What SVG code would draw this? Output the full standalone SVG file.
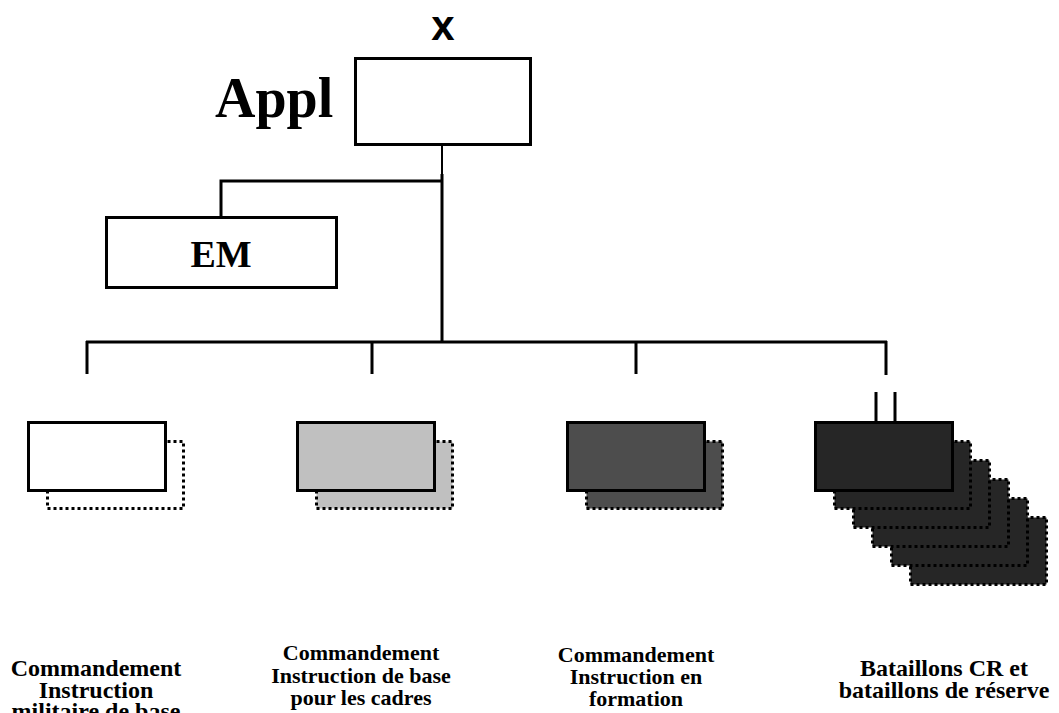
<svg xmlns="http://www.w3.org/2000/svg" width="1059" height="713" viewBox="0 0 1059 713">
<style>
.box{stroke:#000;stroke-width:3}
.sh{stroke:#000;stroke-width:3;stroke-dasharray:3 3}
.ln{stroke:#000;stroke-width:3;fill:none}
.lbl{font-family:"Liberation Serif","Times New Roman",serif;font-weight:bold;font-size:22px;text-anchor:middle;fill:#000}
.lg{font-size:24px}
.big{font-family:"Liberation Serif","Times New Roman",serif;font-weight:bold;fill:#000}
</style>
<rect width="1059" height="713" fill="#fff"/>
<g id="connectors">
<path d="M442 146V176" stroke="#000" stroke-width="2" fill="none"/>
<path class="ln" d="M442 174V342M443 181H221V216M86 342H887M87 341V374M372 341V374M636 341V374M886 341V375M876 392V421M895 392V421"/>
</g>
<g id="appl">
<text x="443" y="40" font-family="'Liberation Sans',Arial,sans-serif" font-weight="bold" font-size="42" text-anchor="middle">x</text>
<text class="big" x="215" y="117" font-size="56">Appl</text>
<rect class="box" x="355.5" y="58.5" width="175" height="86" fill="#fff"/>
</g>
<g id="em">
<rect class="box" x="106.5" y="217.5" width="230" height="70" fill="#fff"/>
<text class="big" x="221" y="267" font-size="38" text-anchor="middle">EM</text>
</g>
<g id="unit1">
<rect class="sh" x="47.5" y="441.5" width="136" height="67" fill="#fff"/>
<rect class="box" x="28.5" y="422.5" width="137" height="68" fill="#fff"/>
<text class="lbl lg" x="96" y="676">Commandement</text>
<text class="lbl lg" x="96" y="698">Instruction</text>
<text class="lbl lg" x="96" y="719">militaire de base</text>
</g>
<g id="unit2">
<rect class="sh" x="316.5" y="441.5" width="136" height="67" fill="#c0c0c0"/>
<rect class="box" x="297.5" y="422.5" width="137" height="68" fill="#c0c0c0"/>
<text class="lbl" x="361" y="660">Commandement</text>
<text class="lbl" x="361" y="683">Instruction de base</text>
<text class="lbl" x="361" y="705">pour les cadres</text>
</g>
<g id="unit3">
<rect class="sh" x="586.5" y="441.5" width="136" height="67" fill="#4d4d4d"/>
<rect class="box" x="567.5" y="422.5" width="137" height="68" fill="#4d4d4d"/>
<text class="lbl" x="636" y="662">Commandement</text>
<text class="lbl" x="636" y="684">Instruction en</text>
<text class="lbl" x="636" y="706">formation</text>
</g>
<g id="unit4">
<rect class="sh" x="910.5" y="517.5" width="136" height="67" fill="#262626"/>
<rect class="sh" x="891.5" y="498.5" width="136" height="67" fill="#262626"/>
<rect class="sh" x="872.5" y="479.5" width="136" height="67" fill="#262626"/>
<rect class="sh" x="853.5" y="460.5" width="136" height="67" fill="#262626"/>
<rect class="sh" x="834.5" y="441.5" width="136" height="67" fill="#262626"/>
<rect class="box" x="815.5" y="422.5" width="137" height="68" fill="#262626"/>
<text class="lbl lg" x="944" y="676">Bataillons CR et</text>
<text class="lbl lg" x="944" y="698">bataillons de réserve</text>
</g>
</svg>
